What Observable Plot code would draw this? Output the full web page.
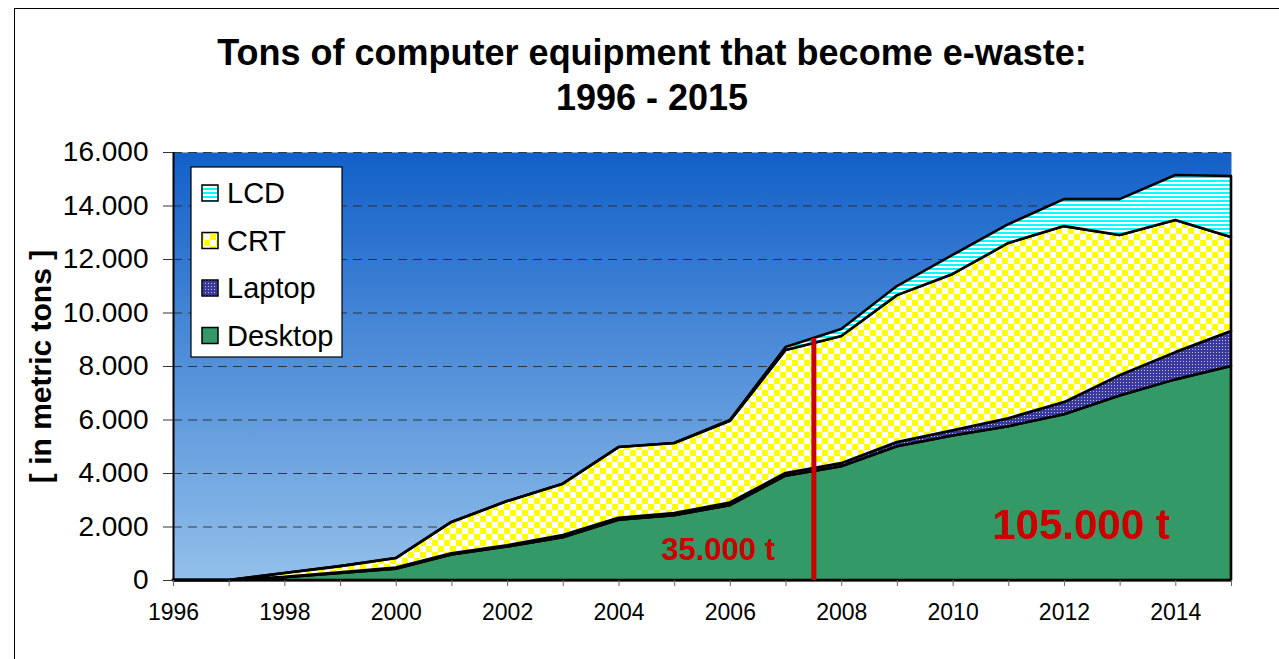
<!DOCTYPE html>
<html><head><meta charset="utf-8">
<script src="https://cdn.jsdelivr.net/npm/d3@7"></script>
<script src="https://cdn.jsdelivr.net/npm/@observablehq/plot@0.6"></script>
<style>
body{margin:0;background:#fff;font-family:"Liberation Sans",Arial,sans-serif;}
#wrap{position:relative;width:1279px;height:659px;overflow:hidden;}
#border{position:absolute;left:14px;top:8px;right:-5px;bottom:-10px;border-left:1.5px solid #000;border-top:1.5px solid #000;}
#title{position:absolute;left:0;width:1304px;top:30px;text-align:center;font-weight:bold;font-size:36px;line-height:45px;color:#000;}
#chart{position:absolute;left:0;top:0;}
</style></head>
<body><div id="wrap"><div id="border"></div><div id="chart"></div><div id="title">Tons of computer equipment that become e-waste:<br>1996 - 2015</div></div>
<script>
const years   = [1996,1997,1998,1999,2000,2001,2002,2003,2004,2005,2006,2007,2008,2009,2010,2011,2012,2013,2014,2015];
const desktop = [0,0,100,260,420,950,1250,1600,2250,2420,2800,3900,4250,5000,5400,5750,6200,6900,7500,8000];
const laptop  = [0,0,20,30,50,50,50,80,80,80,100,100,120,160,200,300,450,760,1020,1310];
const crt     = [0,0,140,230,350,1170,1650,1920,2640,2620,3050,4600,4750,5490,5840,6550,6580,5240,4940,3510];
const lcd     = [0,0,0,0,0,0,0,0,0,0,30,110,260,340,710,700,1010,1340,1680,2280];
const seriesOrder = ["Desktop","Laptop","CRT","LCD"];
const legendOrder = ["LCD","CRT","Laptop","Desktop"];
const yTicks = [0,2000,4000,6000,8000,10000,12000,14000,16000];
const xLabelYears = [1996,1998,2000,2002,2004,2006,2008,2010,2012,2014];
const markerYear = 2007.5;
const markerTop = 9050;
const annotSmall = [{x: 2005.78, y: 1120, label: "35.000 t"}];
const annotBig = [{x: 2012.3, y: 2060, label: "105.000 t"}];
const yLabel = "[ in metric tons ]";

const fills = {Desktop: "#339966", Laptop: "url(#pLaptop)", CRT: "url(#pCRT)", LCD: "url(#pLCD)"};
const values = {Desktop: desktop, Laptop: laptop, CRT: crt, LCD: lcd};
const long = [];
for (const s of seriesOrder) years.forEach((yr, i) => long.push({year: yr, series: s, value: values[s][i]}));

const fmt = d => d3.format(",")(d).replace(/,/g, ".");

const svg = Plot.plot({
  width: 1279, height: 659,
  marginLeft: 173, marginRight: 48, marginTop: 152, marginBottom: 79,
  style: {fontFamily: "'Liberation Sans', Arial, sans-serif", background: "transparent", color: "#000"},
  x: {domain: [1996, 2015]},
  y: {domain: [0, 16000]},
  color: {domain: seriesOrder, range: seriesOrder.map(s => fills[s])},
  marks: [
    Plot.frame({fill: "url(#bgGrad)", stroke: null}),
    Plot.gridY(yTicks.filter(d => d > 0), {stroke: "#2a2a2a", strokeOpacity: 0.9, strokeWidth: 1.2, strokeDasharray: "9,6"}),
    Plot.areaY(long, Plot.stackY({x: "year", y: "value", z: "series", fill: "series", order: seriesOrder,
      stroke: "#000", strokeWidth: 2.6, strokeLinejoin: "round"})),
    Plot.ruleY([0], {stroke: "#000", strokeWidth: 2}),
    Plot.ruleX([1996], {stroke: "#000", strokeWidth: 2}),
    Plot.axisY({ticks: yTicks, tickFormat: fmt, tickSize: 10, tickPadding: 15, fontSize: 28, label: null, stroke: "#333"}),
    Plot.axisX({ticks: years, tickFormat: d => xLabelYears.includes(d) ? String(d) : "", tickSize: 6, tickPadding: 17, fontSize: 23, label: null, stroke: "#666"}),
    Plot.text([yLabel], {frameAnchor: "left", rotate: -90, dx: -132, text: d => d, fontSize: 30, fontWeight: "bold", textAnchor: "middle"}),
    Plot.ruleX([markerYear], {y1: 0, y2: markerTop, stroke: "#CC0000", strokeWidth: 5}),
    Plot.text(annotSmall, {x: "x", y: "y", text: "label", fill: "#CC0000", fontSize: 31, fontWeight: "bold"}),
    Plot.text(annotBig, {x: "x", y: "y", text: "label", fill: "#CC0000", fontSize: 42, fontWeight: "bold"})
  ]
});

const root = d3.select(svg);
const defs = root.insert("defs", ":first-child");
const grad = defs.append("linearGradient").attr("id", "bgGrad").attr("x1", 0).attr("y1", 0).attr("x2", 0).attr("y2", 1);
grad.append("stop").attr("offset", "0%").attr("stop-color", "#1260c8");
grad.append("stop").attr("offset", "100%").attr("stop-color", "#93c0ea");
const pl = defs.append("pattern").attr("id", "pLCD").attr("patternUnits", "userSpaceOnUse").attr("width", 8).attr("height", 4);
pl.append("rect").attr("width", 8).attr("height", 4).attr("fill", "#fff");
pl.append("rect").attr("width", 8).attr("height", 2).attr("fill", "#00ffff");
const pc = defs.append("pattern").attr("id", "pCRT").attr("patternUnits", "userSpaceOnUse").attr("width", 12).attr("height", 12);
pc.append("rect").attr("width", 12).attr("height", 12).attr("fill", "#fff");
pc.append("rect").attr("width", 6).attr("height", 6).attr("fill", "#ffff00");
pc.append("rect").attr("x", 6).attr("y", 6).attr("width", 6).attr("height", 6).attr("fill", "#ffff00");
const pp = defs.append("pattern").attr("id", "pLaptop").attr("patternUnits", "userSpaceOnUse").attr("width", 3).attr("height", 3);
pp.append("rect").attr("width", 3).attr("height", 3).attr("fill", "#3a3a9c");
pp.append("rect").attr("x", 1).attr("y", 1).attr("width", 1).attr("height", 1).attr("fill", "#c0c0ee");

// legend box
const lg = root.append("g").attr("font-family", "'Liberation Sans', Arial, sans-serif").attr("text-anchor", "start");
lg.append("rect").attr("x", 191).attr("y", 167).attr("width", 151).attr("height", 190).attr("fill", "#fff").attr("stroke", "#000").attr("stroke-width", 1.2);
legendOrder.forEach((s, i) => {
  const cy = 193 + i * 47.5;
  lg.append("rect").attr("x", 202).attr("y", cy - 8).attr("width", 16).attr("height", 16).attr("fill", fills[s]).attr("stroke", "#000").attr("stroke-width", 1.5);
  lg.append("text").attr("x", 227).attr("y", cy).attr("dy", "0.35em").attr("font-size", 29).attr("text-anchor", "start").attr("fill", "#000").text(s);
});

document.getElementById("chart").appendChild(svg);
</script>
</body></html>
